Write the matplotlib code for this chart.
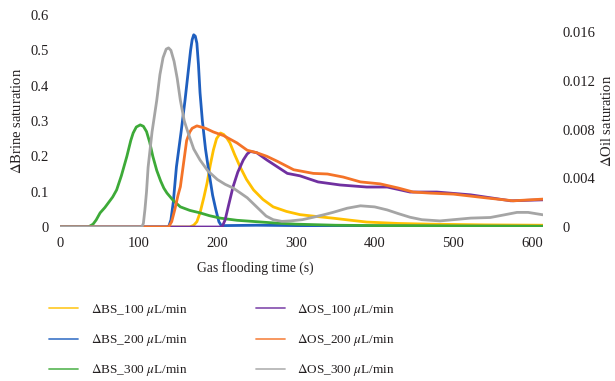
import matplotlib
matplotlib.use("Agg")
import matplotlib.pyplot as plt

plt.rcParams['font.family'] = ['Liberation Serif', 'DejaVu Serif']
plt.rcParams['mathtext.fontset'] = 'stix'

# ---- data ----
bs100_t = [0, 165, 170, 174, 178, 183, 187, 191, 195, 199, 204, 208, 212, 216, 222, 229, 237, 246, 258, 271,
           288, 305, 325, 347, 370, 390, 430, 471, 540, 614]
bs100_v = [0, 0, 0.005, 0.015, 0.04, 0.085, 0.125, 0.175, 0.218, 0.25, 0.266, 0.262, 0.252, 0.238, 0.205, 0.17,
           0.135, 0.105, 0.078, 0.057, 0.044, 0.035, 0.030, 0.025, 0.019, 0.014, 0.010, 0.008, 0.006, 0.005]

bs200_t = [0, 138, 141, 144, 148, 154, 159, 163, 166, 168, 170, 172, 174, 176, 178, 181, 185, 189, 194, 198,
           202, 205, 210, 250, 300, 400, 500, 614]
bs200_v = [0, 0, 0.02, 0.07, 0.17, 0.27, 0.36, 0.44, 0.50, 0.53, 0.544, 0.54, 0.52, 0.46, 0.38, 0.30, 0.22, 0.16,
           0.09, 0.05, 0.015, 0.004, 0.004, 0.005, 0.004, 0.003, 0.002, 0.002]

bs300_t = [0, 36, 42, 46, 51, 57, 62, 67, 72, 78, 85, 90, 93, 97, 102, 106, 110, 114, 118, 123, 128, 132, 136,
           144, 153, 165, 178, 190, 204, 225, 250, 275, 300, 350, 400, 500, 614]
bs300_v = [0, 0, 0.008, 0.02, 0.04, 0.055, 0.07, 0.085, 0.105, 0.145, 0.2, 0.245, 0.266, 0.283, 0.289, 0.285,
           0.27, 0.24, 0.2, 0.16, 0.13, 0.11, 0.096, 0.075, 0.057, 0.047, 0.04, 0.032, 0.025, 0.019, 0.015,
           0.011, 0.008, 0.005, 0.004, 0.003, 0.002]

os100_t = [0, 206, 210, 214, 220, 226, 233, 238, 242, 250, 263, 289, 305, 328, 356, 390, 416, 445, 479, 522,
           573, 614]
os100_v = [0, 0, 0.0006, 0.0017, 0.0033, 0.0045, 0.0055, 0.0060, 0.0062, 0.0061, 0.0055, 0.0044, 0.0042,
           0.0037, 0.00345, 0.00328, 0.00328, 0.00287, 0.00287, 0.00264, 0.00215, 0.00223]

os200_t = [0, 138, 142, 146, 150, 153, 157, 161, 165, 168, 174, 185, 195, 208, 225, 238, 250, 263, 276, 297,
           322, 340, 360, 382, 407, 430, 449, 471, 500, 543, 576, 614]
os200_v = [0, 0, 0.00044, 0.00145, 0.0026, 0.0033, 0.0052, 0.0071, 0.0078, 0.0081, 0.0083, 0.0081, 0.0078,
           0.0075, 0.0069, 0.0063, 0.0061, 0.0058, 0.0054, 0.0047, 0.0044, 0.00435, 0.0041, 0.0037, 0.00354,
           0.0032, 0.00287, 0.00278, 0.0027, 0.00238, 0.00215, 0.00229]

os300_t = [0, 104, 106, 108, 110, 112, 117, 123, 127, 131, 135, 138, 141, 145, 149, 153, 158, 163, 170, 178,
           188, 200, 210, 220, 230, 238, 246, 254, 262, 271, 282, 293, 308, 322, 335, 347, 365, 382, 400, 416,
           430, 445, 460, 483, 500, 522, 547, 565, 581, 595, 614]
os300_v = [0, 0, 0.0003, 0.00145, 0.0029, 0.0049, 0.0078, 0.0104, 0.0125, 0.0139, 0.0146, 0.0147, 0.0145,
           0.0136, 0.0122, 0.0104, 0.0087, 0.0077, 0.0064, 0.0055, 0.0046, 0.0039, 0.0035, 0.0032, 0.00276,
           0.0024, 0.0019, 0.0014, 0.0009, 0.0006, 0.00046, 0.0005, 0.0006, 0.0008, 0.0010, 0.0012, 0.00154,
           0.00174, 0.00165, 0.0014, 0.0011, 0.0008, 0.0006, 0.0005, 0.0006, 0.00073, 0.00078, 0.0010, 0.0012,
           0.0012, 0.0010]

labels = [r'$\Delta$BS_100 $\mu$L/min', r'$\Delta$BS_200 $\mu$L/min', r'$\Delta$BS_300 $\mu$L/min',
          r'$\Delta$OS_100 $\mu$L/min', r'$\Delta$OS_200 $\mu$L/min', r'$\Delta$OS_300 $\mu$L/min']
colors = ['#FFC000', '#1F5FBF', '#3DAA38', '#7030A0', '#F47328', '#A5A5A5']

x_ticks = [0, 100, 200, 300, 400, 500, 600]
left_ticks = [0, 0.1, 0.2, 0.3, 0.4, 0.5, 0.6]
left_ticklabels = ['0', '0.1', '0.2', '0.3', '0.4', '0.5', '0.6']
right_ticks = [0, 0.004, 0.008, 0.012, 0.016]
right_ticklabels = ['0', '0.004', '0.008', '0.012', '0.016']

W, H = 615, 381
fig = plt.figure(figsize=(W / 100, H / 100), dpi=100)
ax = fig.add_axes([60 / W, 1 - 227 / H, (543 - 60) / W, (227 - 15) / H])
ax2 = ax.twinx()

lw = 2.0
series_left = [(bs100_t, bs100_v), (bs200_t, bs200_v), (bs300_t, bs300_v)]
series_right = [(os100_t, os100_v), (os200_t, os200_v), (os300_t, os300_v)]
handles = []
for (t, v), c, lab in zip(series_left, colors[:3], labels[:3]):
    h, = ax.plot(t, v, color=c, lw=lw, label=lab, solid_joinstyle='round', solid_capstyle='round')
    handles.append(h)
for (t, v), c, lab in zip(series_right, colors[3:], labels[3:]):
    h, = ax2.plot(t, v, color=c, lw=lw, label=lab, solid_joinstyle='round', solid_capstyle='round')
    handles.append(h)

ax.set_xlim(0, 614)
ax.set_ylim(0, 0.6)
ax2.set_ylim(0, 0.0174)

fs = 10.5
fs_txt = 9.5
tc = '#231F20'
ax.set_xticks(x_ticks)
ax.set_xticklabels([str(v) for v in x_ticks], fontsize=fs)
ax.set_yticks(left_ticks)
ax.set_yticklabels(left_ticklabels, fontsize=fs)
ax2.set_yticks(right_ticks)
ax2.set_yticklabels(right_ticklabels, fontsize=fs)
ax.tick_params(axis='both', length=0, colors=tc)
ax.tick_params(axis='y', pad=8)
ax.tick_params(axis='x', pad=7)
ax2.tick_params(axis='y', length=0, pad=14, colors=tc)
for a in (ax, ax2):
    for s in a.spines.values():
        s.set_visible(False)

fig.text(17 / W, 1 - 121 / H, r'$\Delta$Brine saturation', rotation=90, ha='center', va='center',
         fontsize=fs, color=tc)
fig.text(607 / W, 1 - 121 / H, r'$\Delta$Oil saturation', rotation=90, ha='center', va='center',
         fontsize=fs, color=tc)
fig.text(255 / W, 1 - 268 / H, 'Gas flooding time (s)', ha='center', va='center', fontsize=fs_txt + 0.3,
         color=tc)

leg = fig.legend(handles, labels, ncol=2,
                 loc='upper left', bbox_to_anchor=(49 / W, 1 - 302 / H), frameon=False,
                 fontsize=fs_txt, handlelength=2.2, handletextpad=0.95, columnspacing=5.2,
                 labelspacing=1.08, borderpad=0, borderaxespad=0)
for l in leg.get_lines():
    l.set_linewidth(1.3)
    l.set_alpha(0.8)
for t in leg.get_texts():
    t.set_color(tc)

fig.savefig('out.png', dpi=100)
